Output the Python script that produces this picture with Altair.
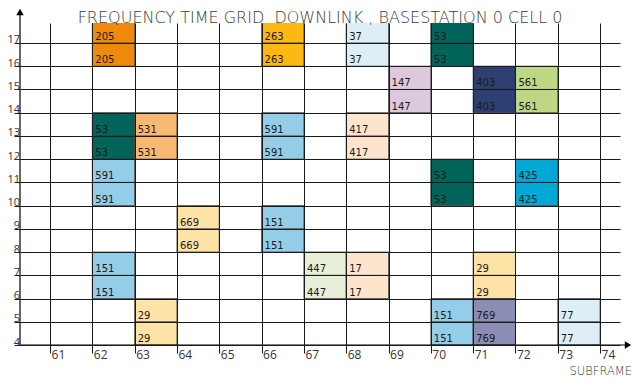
import altair as alt
import pandas as pd

# ---- data ----
title_text = "FREQUENCY TIME GRID \u00a0DOWNLINK , BASESTATION 0 CELL 0"
x_title = "SUBFRAME"
x_ticks = list(range(61, 75))
y_ticks = list(range(4, 18))

alloc_subframe = [62, 66, 68, 70, 69, 71, 72, 62, 63, 66, 68, 62, 70, 72,
                  64, 66, 62, 67, 68, 71, 63, 70, 71, 73]
alloc_first_row = [16, 16, 16, 16, 14, 14, 14, 12, 12, 12, 12, 10, 10, 10,
                   8, 8, 6, 6, 6, 6, 4, 4, 4, 4]
alloc_rows = [2] * 24
alloc_label = ["205", "263", "37", "53", "147", "403", "561", "53", "531", "591",
               "417", "591", "53", "425", "669", "151", "151", "447", "17", "29",
               "29", "151", "769", "77"]
alloc_color = ["#EF8A0C", "#FDB813", "#DDEEF6", "#00645A", "#DDC9DD", "#2E3F71",
               "#BED785", "#00645A", "#F8B872", "#93CDE7", "#FDE5CD", "#93CDE7",
               "#00645A", "#00A9D5", "#FFE2A6", "#93CDE7", "#93CDE7", "#E9F0DA",
               "#FDE5CD", "#FFE2A6", "#FFE2A6", "#93CDE7", "#8C8DB4", "#DDEEF6"]

records = []
for s, r0, n, lab, col in zip(alloc_subframe, alloc_first_row, alloc_rows,
                              alloc_label, alloc_color):
    for k in range(n):
        records.append({"sub": s, "sub_end": s + 1, "row": r0 + k,
                        "row_end": r0 + k + 1, "label": lab, "color": col})
df = pd.DataFrame(records)
one = pd.DataFrame({"a": [0]})

GRID = "#1a1a1a"
x_enc = alt.X("sub:Q",
              scale=alt.Scale(domain=[60.29, 74.47], nice=False, zero=False),
              axis=alt.Axis(values=x_ticks, grid=True, gridColor=GRID, gridOpacity=1,
                            gridWidth=1, domain=False, tickSize=8, tickColor=GRID,
                            tickWidth=1, labelAlign="left", labelBaseline="top",
                            labelPadding=-4, labelOffset=1, labelFont="Open Sans",
                            labelFontSize=12, labelColor="#333333", labelFlush=False,
                            labelOverlap=False, labelAngle=0, title=None, zindex=1,
                            format="d"))
y_enc = alt.Y("row:Q",
              scale=alt.Scale(domain=[4, 17.86], nice=False, zero=False),
              axis=alt.Axis(values=y_ticks, grid=True, gridColor=GRID, gridOpacity=1,
                            gridWidth=1, domain=False, tickSize=6, tickColor=GRID,
                            tickWidth=1, labelAlign="right", labelBaseline="alphabetic",
                            labelPadding=-5.5, labelFont="Open Sans", labelFontSize=11,
                            labelColor="#333333", labelFlush=False, labelOverlap=False,
                            title=None, zindex=1, format="d"))

cells = alt.Chart(df).mark_rect(clip=True, stroke="#333333", strokeWidth=0.8).encode(
    x=x_enc, x2="sub_end:Q", y=y_enc, y2="row_end:Q",
    fill=alt.Fill("color:N", scale=None),
)

cell_text = alt.Chart(df).mark_text(
    align="left", baseline="alphabetic", dx=3, dy=-3, font="DejaVu Sans",
    fontSize=10, color="#1a1a1a", clip=True,
).encode(x=x_enc, y=y_enc, text="label:N")

# axis lines with arrows
y_axis_line = alt.Chart(one).mark_rule(color="black", strokeWidth=1.2).encode(
    x=alt.value(0), y=alt.value(322), y2=alt.value(-9))
x_axis_line = alt.Chart(one).mark_rule(color="black", strokeWidth=1.2).encode(
    x=alt.value(0), x2=alt.value(607), y=alt.value(322))
y_arrow = alt.Chart(one).mark_point(shape="triangle-up", filled=True, size=55,
                                    color="black", opacity=1).encode(
    x=alt.value(0), y=alt.value(-11))
x_arrow = alt.Chart(one).mark_point(shape="triangle-right", filled=True, size=55,
                                    color="black", opacity=1).encode(
    x=alt.value(608), y=alt.value(322))

title = alt.Chart(one).mark_text(
    align="center", baseline="alphabetic", font="DejaVu Sans", fontSize=16,
    fontWeight=200, color="#3a3a3a",
).encode(x=alt.value(300), y=alt.value(0), text=alt.value(title_text))

xtitle = alt.Chart(one).mark_text(
    align="right", baseline="alphabetic", font="DejaVu Sans", fontSize=11.5,
    fontWeight=200, color="#3a3a3a",
).encode(x=alt.value(612), y=alt.value(351.5), text=alt.value(x_title))

chart = alt.layer(cells, cell_text, y_axis_line, x_axis_line, y_arrow, x_arrow,
                  title, xtitle).properties(
    width=600, height=322,
    padding={"left": 12, "top": 15, "right": 13, "bottom": 33},
    autosize=alt.AutoSizeParams(type="none"),
).configure_view(stroke=None)

chart.save("out.html", embed_options={"renderer": "svg", "actions": False})
